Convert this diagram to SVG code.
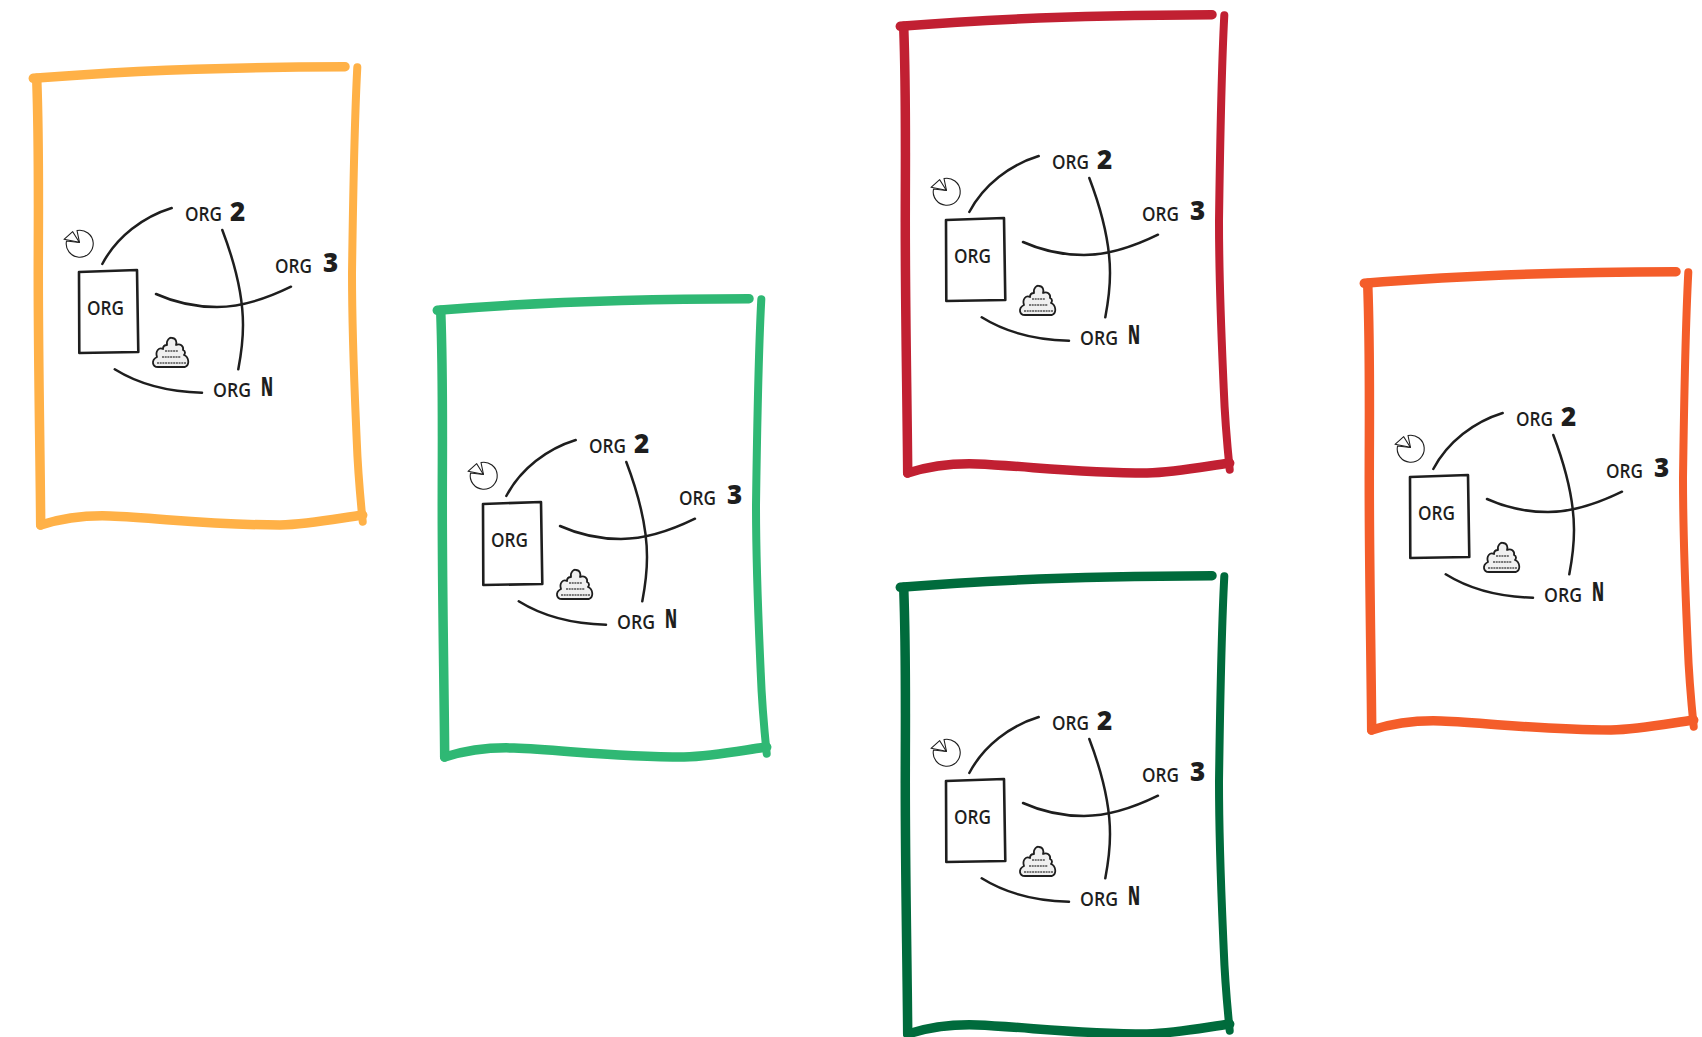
<svg xmlns="http://www.w3.org/2000/svg" width="1702" height="1037" viewBox="0 0 1702 1037">
<style>
.f{fill:none;stroke-linecap:round;stroke-linejoin:round;stroke-width:9.5}
.fr{stroke-width:8}
.c{fill:none;stroke:#1e1e1e;stroke-width:2.5;stroke-linecap:round}
.b{fill:#fff;stroke:#1e1e1e;stroke-width:2.6;stroke-linejoin:round}
.p{fill:#fff;stroke:#1e1e1e;stroke-width:1.1;stroke-linejoin:round}
.cl{fill:#f0f0f0;stroke:#1e1e1e;stroke-width:1.8;stroke-linejoin:round}
.d{fill:none;stroke:#777;stroke-width:2;stroke-dasharray:2 .7}
text{font-family:"Open Sans","Noto Sans",sans-serif;fill:#1e1e1e}
.o{font-size:19.5px;font-weight:600}
.n{font-size:26px;font-weight:800}
</style>
<defs>
<g id="frame">
<path class="f" d="M33.3 78.3C120 71 230 67 345 66.7"/>
<path class="f" d="M36.7 78.3C39 140 38.5 180 38.3 260C38 350 40 440 40.7 525"/>
<path class="f" d="M40.7 525C60 519 80 515 110 516C160 518 210 525 280 525C310 524 340 518 362.7 515"/>
<path class="f fr" d="M357.3 67.3C354 130 353 200 352 273C352 340 355 400 356.7 440C358 475 360 495 362.7 521.7"/>
</g>
<g id="boxShape"><path class="b" d="M79 272L137 270L138.3 352L79.3 353Z"/></g>
<g id="pieShape"><path class="p" d="M77 230.5A13.5 13.5 0 1 1 66.5 241L79.5 242.5Z"/><path class="p" d="M64 239.3L72.7 231.7L79.3 242.3Z"/></g>
<g id="cloudShape"><path class="cl" d="M158 367C152 367 151 360 157 357C155 351 159 347 163 349C163 345 166 345 167 345C166 340 170 337 172 338C176 338 177 342 176 345C180 343 184 346 183 350C186 351 185 354 184 355C189 357 190 365 185 367Z"/>
<path class="d" d="M165 351H178M162 357H181M157 363H186"/></g>
<g id="links">
<path class="c" d="M102.3 264C116.7 236.7 143.3 216.7 171.7 208"/>
<path class="c" d="M222.3 230C236 266 243 296 243 325C243 342 241 355 238.3 369.3"/>
<path class="c" d="M156 294C176 303 197 307 217 307C245 307 270 297 291 286.7"/>
<path class="c" d="M114.7 369.3C140 385 170 392 202 392.7"/>
</g>
</defs>
<g id="panel-1" transform="translate(0 0)">
<use href="#frame" stroke="#ffb147"/>
<g id="connectors-1"><use href="#links"/></g>
<g id="org-1"><use href="#boxShape"/><text class="o" x="87" y="315" textLength="37" lengthAdjust="spacingAndGlyphs">ORG</text></g>
<g id="org2-1"><text class="o" x="185" y="221" textLength="37" lengthAdjust="spacingAndGlyphs">ORG</text><text class="n" x="230" y="221">2</text></g>
<g id="org3-1"><text class="o" x="275" y="273" textLength="37" lengthAdjust="spacingAndGlyphs">ORG</text><text class="n" x="323" y="272">3</text></g>
<g id="orgn-1"><text class="o" x="213" y="397" textLength="38" lengthAdjust="spacingAndGlyphs">ORG</text><text class="n" x="261" y="396" textLength="12" lengthAdjust="spacingAndGlyphs">N</text></g>
<g id="pie-1"><use href="#pieShape"/></g>
<g id="cloud-1"><use href="#cloudShape"/></g>
</g>
<g id="panel-2" transform="translate(404 232)">
<use href="#frame" stroke="#2fb874"/>
<g id="connectors-2"><use href="#links"/></g>
<g id="org-2"><use href="#boxShape"/><text class="o" x="87" y="315" textLength="37" lengthAdjust="spacingAndGlyphs">ORG</text></g>
<g id="org2-2"><text class="o" x="185" y="221" textLength="37" lengthAdjust="spacingAndGlyphs">ORG</text><text class="n" x="230" y="221">2</text></g>
<g id="org3-2"><text class="o" x="275" y="273" textLength="37" lengthAdjust="spacingAndGlyphs">ORG</text><text class="n" x="323" y="272">3</text></g>
<g id="orgn-2"><text class="o" x="213" y="397" textLength="38" lengthAdjust="spacingAndGlyphs">ORG</text><text class="n" x="261" y="396" textLength="12" lengthAdjust="spacingAndGlyphs">N</text></g>
<g id="pie-2"><use href="#pieShape"/></g>
<g id="cloud-2"><use href="#cloudShape"/></g>
</g>
<g id="panel-3" transform="translate(867 -52)">
<use href="#frame" stroke="#c12032"/>
<g id="connectors-3"><use href="#links"/></g>
<g id="org-3"><use href="#boxShape"/><text class="o" x="87" y="315" textLength="37" lengthAdjust="spacingAndGlyphs">ORG</text></g>
<g id="org2-3"><text class="o" x="185" y="221" textLength="37" lengthAdjust="spacingAndGlyphs">ORG</text><text class="n" x="230" y="221">2</text></g>
<g id="org3-3"><text class="o" x="275" y="273" textLength="37" lengthAdjust="spacingAndGlyphs">ORG</text><text class="n" x="323" y="272">3</text></g>
<g id="orgn-3"><text class="o" x="213" y="397" textLength="38" lengthAdjust="spacingAndGlyphs">ORG</text><text class="n" x="261" y="396" textLength="12" lengthAdjust="spacingAndGlyphs">N</text></g>
<g id="pie-3"><use href="#pieShape"/></g>
<g id="cloud-3"><use href="#cloudShape"/></g>
</g>
<g id="panel-4" transform="translate(867 509)">
<use href="#frame" stroke="#006b3c"/>
<g id="connectors-4"><use href="#links"/></g>
<g id="org-4"><use href="#boxShape"/><text class="o" x="87" y="315" textLength="37" lengthAdjust="spacingAndGlyphs">ORG</text></g>
<g id="org2-4"><text class="o" x="185" y="221" textLength="37" lengthAdjust="spacingAndGlyphs">ORG</text><text class="n" x="230" y="221">2</text></g>
<g id="org3-4"><text class="o" x="275" y="273" textLength="37" lengthAdjust="spacingAndGlyphs">ORG</text><text class="n" x="323" y="272">3</text></g>
<g id="orgn-4"><text class="o" x="213" y="397" textLength="38" lengthAdjust="spacingAndGlyphs">ORG</text><text class="n" x="261" y="396" textLength="12" lengthAdjust="spacingAndGlyphs">N</text></g>
<g id="pie-4"><use href="#pieShape"/></g>
<g id="cloud-4"><use href="#cloudShape"/></g>
</g>
<g id="panel-5" transform="translate(1331 205)">
<use href="#frame" stroke="#f45d2a"/>
<g id="connectors-5"><use href="#links"/></g>
<g id="org-5"><use href="#boxShape"/><text class="o" x="87" y="315" textLength="37" lengthAdjust="spacingAndGlyphs">ORG</text></g>
<g id="org2-5"><text class="o" x="185" y="221" textLength="37" lengthAdjust="spacingAndGlyphs">ORG</text><text class="n" x="230" y="221">2</text></g>
<g id="org3-5"><text class="o" x="275" y="273" textLength="37" lengthAdjust="spacingAndGlyphs">ORG</text><text class="n" x="323" y="272">3</text></g>
<g id="orgn-5"><text class="o" x="213" y="397" textLength="38" lengthAdjust="spacingAndGlyphs">ORG</text><text class="n" x="261" y="396" textLength="12" lengthAdjust="spacingAndGlyphs">N</text></g>
<g id="pie-5"><use href="#pieShape"/></g>
<g id="cloud-5"><use href="#cloudShape"/></g>
</g>
</svg>
